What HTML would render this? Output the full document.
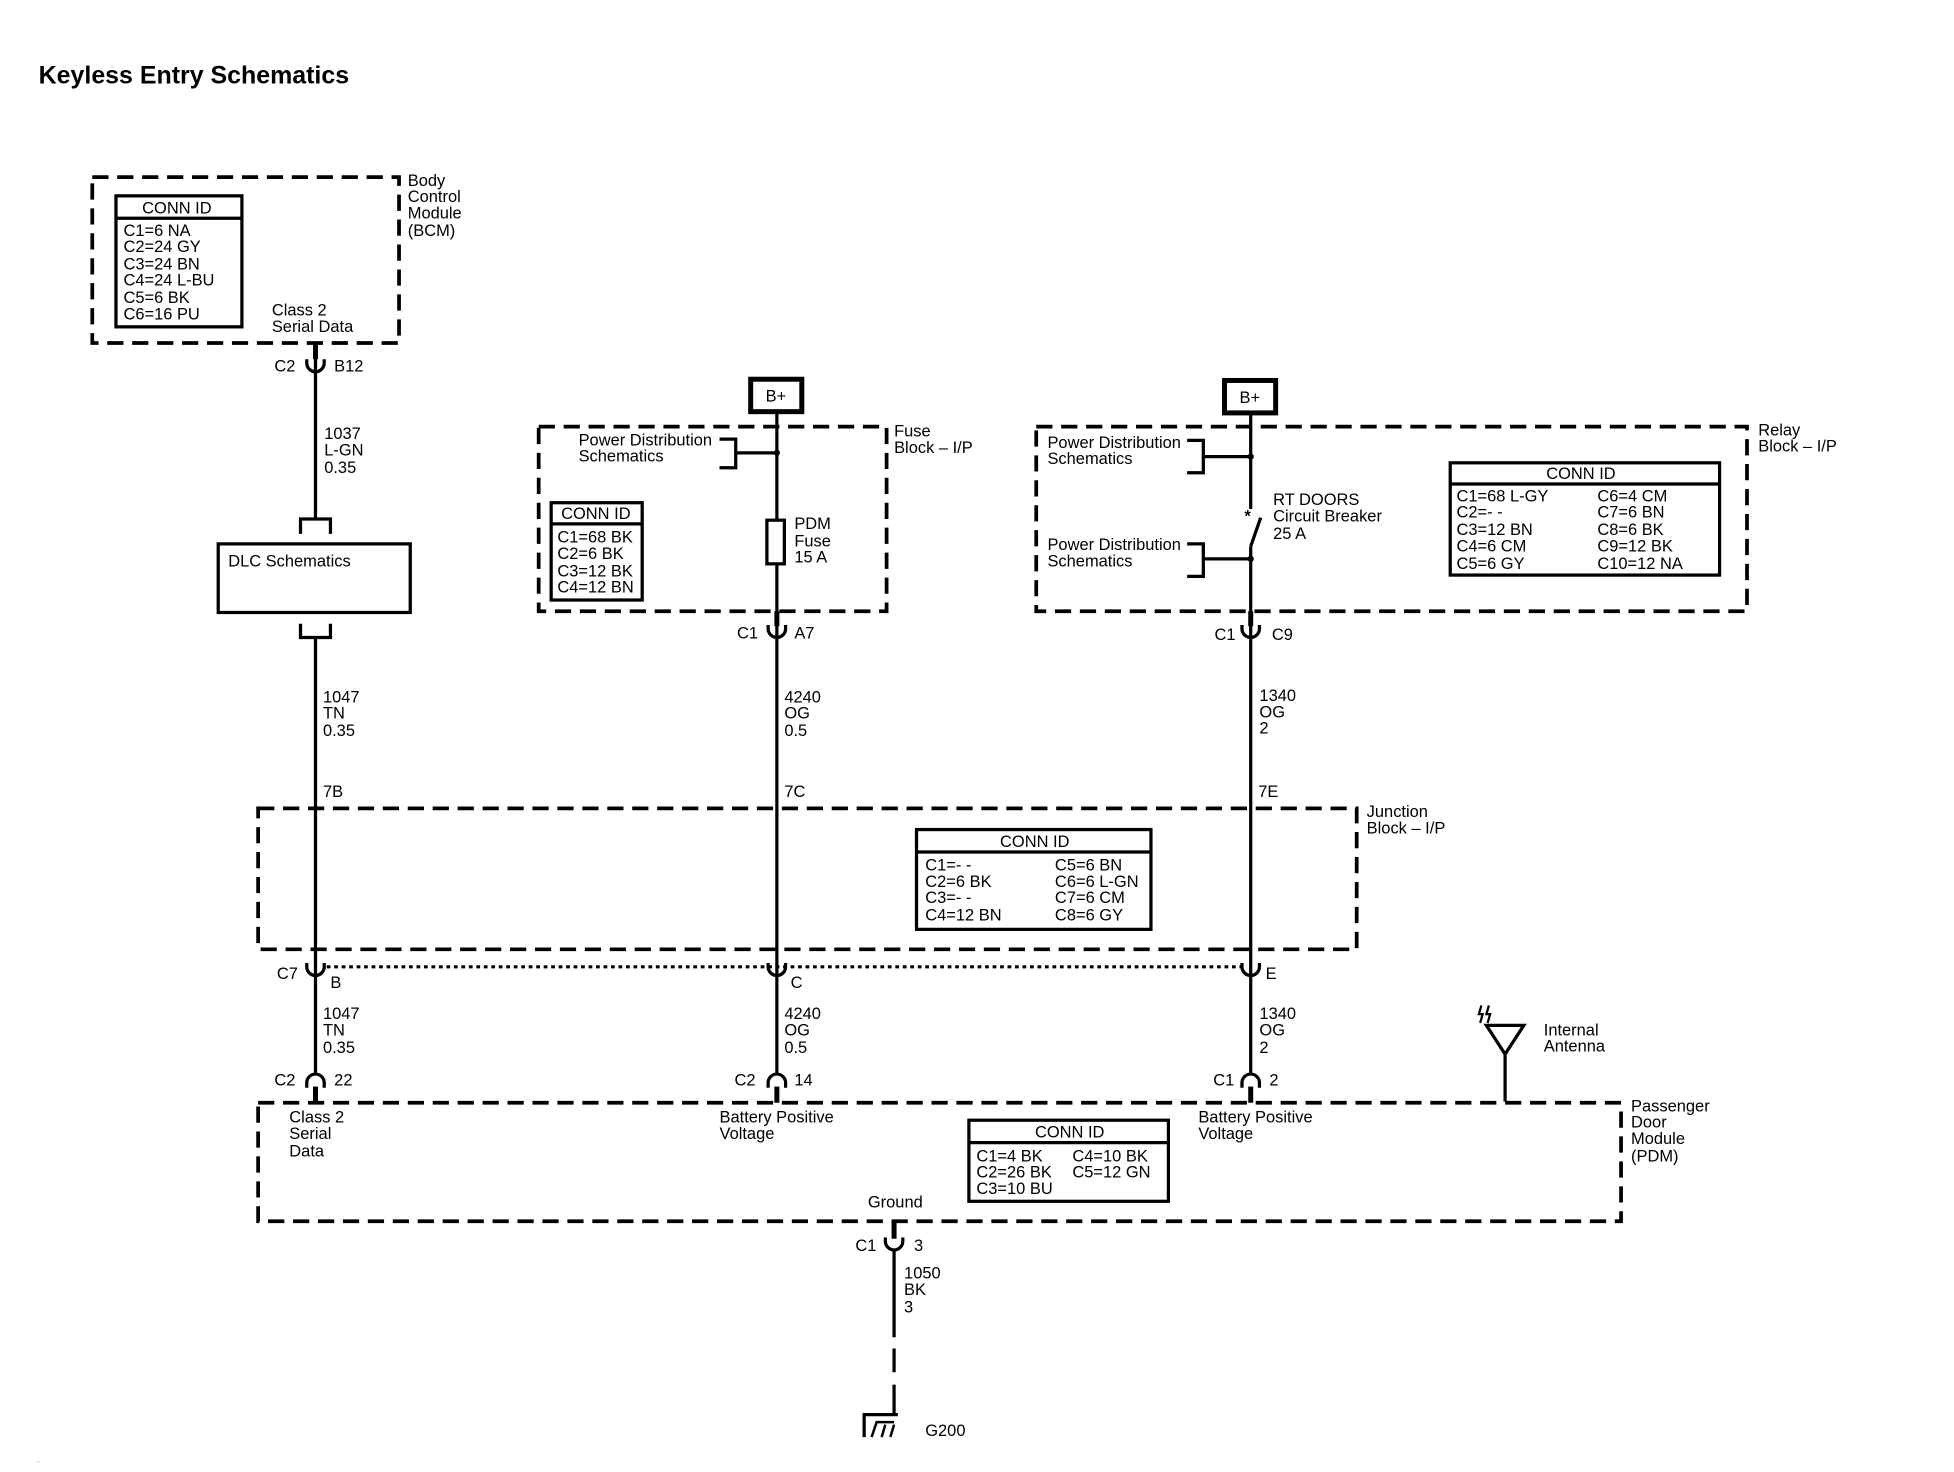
<!DOCTYPE html>
<html><head><meta charset="utf-8"><style>
html,body{margin:0;padding:0;background:#fff}
svg{display:block}
text{font-family:"Liberation Sans",sans-serif;font-size:13.2px;fill:#000}
.d{fill:none;stroke:#000;stroke-width:3;stroke-dasharray:13,7}
.w{fill:none;stroke:#000;stroke-width:2.6}
.b{fill:none;stroke:#000;stroke-width:2.6}
</style></head><body>
<svg width="1954" height="1472" viewBox="0 0 1567 1180" preserveAspectRatio="none" xmlns="http://www.w3.org/2000/svg">
<rect width="1567" height="1180" fill="#fff"/>
<text x="31" y="67" style="font-size:20px;font-weight:bold">Keyless Entry Schematics</text>

<!-- BCM -->
<rect class="d" x="74" y="142" width="246" height="133"/>
<text x="327" y="149">Body</text><text x="327" y="162">Control</text><text x="327" y="175">Module</text><text x="327" y="189">(BCM)</text>
<rect class="b" x="93" y="157" width="101" height="105"/>
<line class="b" x1="93" y1="175" x2="194" y2="175"/>
<text x="114" y="171">CONN ID</text>
<text x="99" y="189">C1=6 NA</text><text x="99" y="202">C2=24 GY</text><text x="99" y="216">C3=24 BN</text><text x="99" y="229">C4=24 L-BU</text><text x="99" y="243">C5=6 BK</text><text x="99" y="256">C6=16 PU</text>
<text x="218" y="253">Class 2</text><text x="218" y="266">Serial Data</text>

<!-- wire 1 -->
<line class="w" x1="253" y1="275" x2="253" y2="415"/>
<line x1="253" y1="275" x2="253" y2="288" stroke="#000" stroke-width="4"/>
<path class="w" d="M246 288 v3 a7 7 0 0 0 14 0 v-3"/>
<text x="220" y="298">C2</text><text x="268" y="298">B12</text>
<text x="260" y="352">1037</text><text x="260" y="365">L-GN</text><text x="260" y="379">0.35</text>
<path class="b" d="M241 428 V416 H265 V428"/>
<rect class="b" x="175" y="436" width="154" height="55"/>
<text x="183" y="454">DLC Schematics</text>
<path class="b" d="M241 500 V511 H265 V500"/>
<line class="w" x1="253" y1="511" x2="253" y2="862"/>
<text x="259" y="563">1047</text><text x="259" y="576">TN</text><text x="259" y="590">0.35</text>
<text x="259" y="639">7B</text>

<!-- Fuse block -->
<rect x="602" y="304" width="41" height="26" fill="none" stroke="#000" stroke-width="4"/>
<text x="614" y="322">B+</text>
<rect class="d" x="432" y="342" width="279" height="148"/>
<text x="717" y="350">Fuse</text><text x="717" y="363">Block – I/P</text>
<text x="464" y="357">Power Distribution</text><text x="464" y="370">Schematics</text>
<path class="b" d="M577 352 H590 V375 H577 M590 363 H623"/>
<circle cx="623" cy="363" r="2.5"/>
<rect class="b" x="442" y="403" width="73" height="78"/>
<line class="b" x1="442" y1="420" x2="515" y2="420"/>
<text x="450" y="416">CONN ID</text>
<text x="447" y="435">C1=68 BK</text><text x="447" y="448">C2=6 BK</text><text x="447" y="462">C3=12 BK</text><text x="447" y="475">C4=12 BN</text>
<line class="w" x1="623" y1="330" x2="623" y2="416"/>
<rect class="b" x="615" y="417" width="14" height="35"/>
<line class="w" x1="623" y1="452" x2="623" y2="862"/>
<text x="637" y="424">PDM</text><text x="637" y="438">Fuse</text><text x="637" y="451">15 A</text>
<line x1="623" y1="490" x2="623" y2="502" stroke="#000" stroke-width="4"/>
<path class="w" d="M616 501 v3 a7 7 0 0 0 14 0 v-3"/>
<text x="591" y="512">C1</text><text x="637" y="512">A7</text>
<text x="629" y="563">4240</text><text x="629" y="576">OG</text><text x="629" y="590">0.5</text>
<text x="629" y="639">7C</text>

<!-- Relay block -->
<rect x="982" y="305" width="41" height="26" fill="none" stroke="#000" stroke-width="4"/>
<text x="994" y="323">B+</text>
<rect class="d" x="831" y="342" width="570" height="148"/>
<text x="1410" y="349">Relay</text><text x="1410" y="362">Block – I/P</text>
<text x="840" y="359">Power Distribution</text><text x="840" y="372">Schematics</text>
<path class="b" d="M952 353 H965 V379 H952 M965 366 H1003"/>
<circle cx="1003" cy="366" r="2.5"/>
<text x="840" y="441">Power Distribution</text><text x="840" y="454">Schematics</text>
<path class="b" d="M952 436 H965 V462 H952 M965 448 H1003"/>
<circle cx="1003" cy="448" r="2.5"/>
<line class="w" x1="1003" y1="331" x2="1003" y2="408"/>
<text x="998" y="418" style="font-size:13px;font-weight:bold">*</text>
<line class="w" x1="1011" y1="415" x2="1003" y2="438"/>
<line class="w" x1="1003" y1="438" x2="1003" y2="862"/>
<text x="1021" y="405">RT DOORS</text><text x="1021" y="418">Circuit Breaker</text><text x="1021" y="432">25 A</text>
<rect class="b" x="1163" y="371" width="216" height="90"/>
<line class="b" x1="1163" y1="388" x2="1379" y2="388"/>
<text x="1240" y="384">CONN ID</text>
<text x="1168" y="402">C1=68 L-GY</text><text x="1168" y="415">C2=- -</text><text x="1168" y="429">C3=12 BN</text><text x="1168" y="442">C4=6 CM</text><text x="1168" y="456">C5=6 GY</text>
<text x="1281" y="402">C6=4 CM</text><text x="1281" y="415">C7=6 BN</text><text x="1281" y="429">C8=6 BK</text><text x="1281" y="442">C9=12 BK</text><text x="1281" y="456">C10=12 NA</text>
<line x1="1003" y1="490" x2="1003" y2="502" stroke="#000" stroke-width="4"/>
<path class="w" d="M996 501 v3 a7 7 0 0 0 14 0 v-3"/>
<text x="974" y="513">C1</text><text x="1020" y="513">C9</text>
<text x="1010" y="562">1340</text><text x="1010" y="575">OG</text><text x="1010" y="588">2</text>
<text x="1009" y="639">7E</text>

<!-- Junction block -->
<rect class="d" x="207" y="648" width="881" height="113"/>
<text x="1096" y="655">Junction</text><text x="1096" y="668">Block – I/P</text>
<rect class="b" x="735" y="665" width="188" height="80"/>
<line class="b" x1="735" y1="683" x2="923" y2="683"/>
<text x="802" y="679">CONN ID</text>
<text x="742" y="698">C1=- -</text><text x="742" y="711">C2=6 BK</text><text x="742" y="724">C3=- -</text><text x="742" y="738">C4=12 BN</text>
<text x="846" y="698">C5=6 BN</text><text x="846" y="711">C6=6 L-GN</text><text x="846" y="724">C7=6 CM</text><text x="846" y="738">C8=6 GY</text>

<!-- dotted connector row -->
<line x1="262" y1="775" x2="996" y2="775" stroke="#000" stroke-width="2.5" stroke-dasharray="3,3"/>
<path class="w" d="M246 772 v3 a7 7 0 0 0 14 0 v-3"/>
<path class="w" d="M616 772 v3 a7 7 0 0 0 14 0 v-3"/>
<path class="w" d="M996 772 v3 a7 7 0 0 0 14 0 v-3"/>
<text x="222" y="785">C7</text><text x="265" y="792">B</text>
<text x="634" y="792">C</text><text x="1015" y="785">E</text>
<text x="259" y="817">1047</text><text x="259" y="830">TN</text><text x="259" y="844">0.35</text>
<text x="629" y="817">4240</text><text x="629" y="830">OG</text><text x="629" y="844">0.5</text>
<text x="1010" y="817">1340</text><text x="1010" y="830">OG</text><text x="1010" y="844">2</text>

<!-- lower connectors -->
<path class="w" d="M246 872 v-4 a7 7 0 0 1 14 0 v4"/>
<path class="w" d="M616 872 v-4 a7 7 0 0 1 14 0 v4"/>
<path class="w" d="M996 872 v-4 a7 7 0 0 1 14 0 v4"/>
<line x1="253" y1="871" x2="253" y2="884" stroke="#000" stroke-width="4"/>
<line x1="623" y1="871" x2="623" y2="884" stroke="#000" stroke-width="4"/>
<line x1="1003" y1="871" x2="1003" y2="884" stroke="#000" stroke-width="4"/>
<text x="220" y="870">C2</text><text x="268" y="870">22</text>
<text x="589" y="870">C2</text><text x="637" y="870">14</text>
<text x="973" y="870">C1</text><text x="1018" y="870">2</text>

<!-- antenna -->
<path class="b" d="M1192 822 H1222 L1207 845 Z M1207 845 V883"/>
<path d="M1188 806 l-2 7 h3 l-2 7 M1194 806 l-2 7 h3 l-2 7" fill="none" stroke="#000" stroke-width="1.8"/>
<text x="1238" y="830">Internal</text><text x="1238" y="843">Antenna</text>

<!-- PDM -->
<rect class="d" x="207" y="884" width="1093" height="95"/>
<text x="1308" y="891">Passenger</text><text x="1308" y="904">Door</text><text x="1308" y="917">Module</text><text x="1308" y="931">(PDM)</text>
<text x="232" y="900">Class 2</text><text x="232" y="913">Serial</text><text x="232" y="927">Data</text>
<text x="577" y="900">Battery Positive</text><text x="577" y="913">Voltage</text>
<text x="961" y="900">Battery Positive</text><text x="961" y="913">Voltage</text>
<rect class="b" x="777" y="898" width="160" height="65"/>
<line class="b" x1="777" y1="916" x2="937" y2="916"/>
<text x="830" y="912">CONN ID</text>
<text x="783" y="931">C1=4 BK</text><text x="783" y="944">C2=26 BK</text><text x="783" y="957">C3=10 BU</text>
<text x="860" y="931">C4=10 BK</text><text x="860" y="944">C5=12 GN</text>
<text x="696" y="968">Ground</text>

<!-- ground wire -->
<line x1="717" y1="979" x2="717" y2="993" stroke="#000" stroke-width="4"/>
<path class="w" d="M710 992 v3 a7 7 0 0 0 14 0 v-3"/>
<text x="686" y="1003">C1</text><text x="733" y="1003">3</text>
<line class="w" x1="717" y1="1002" x2="717" y2="1072"/>
<text x="725" y="1025">1050</text><text x="725" y="1038">BK</text><text x="725" y="1052">3</text>
<line class="w" x1="717" y1="1081" x2="717" y2="1100"/>
<line class="w" x1="717" y1="1110" x2="717" y2="1134"/>
<path class="b" d="M693 1152 V1134 H720"/>
<path d="M699 1152 l4 -12 h14 M707 1152 l3 -10 M714 1152 l3 -10" fill="none" stroke="#000" stroke-width="2"/>
<text x="742" y="1151">G200</text>
<text x="30" y="1172" style="font-size:5px">.</text>
</svg>
</body></html>
